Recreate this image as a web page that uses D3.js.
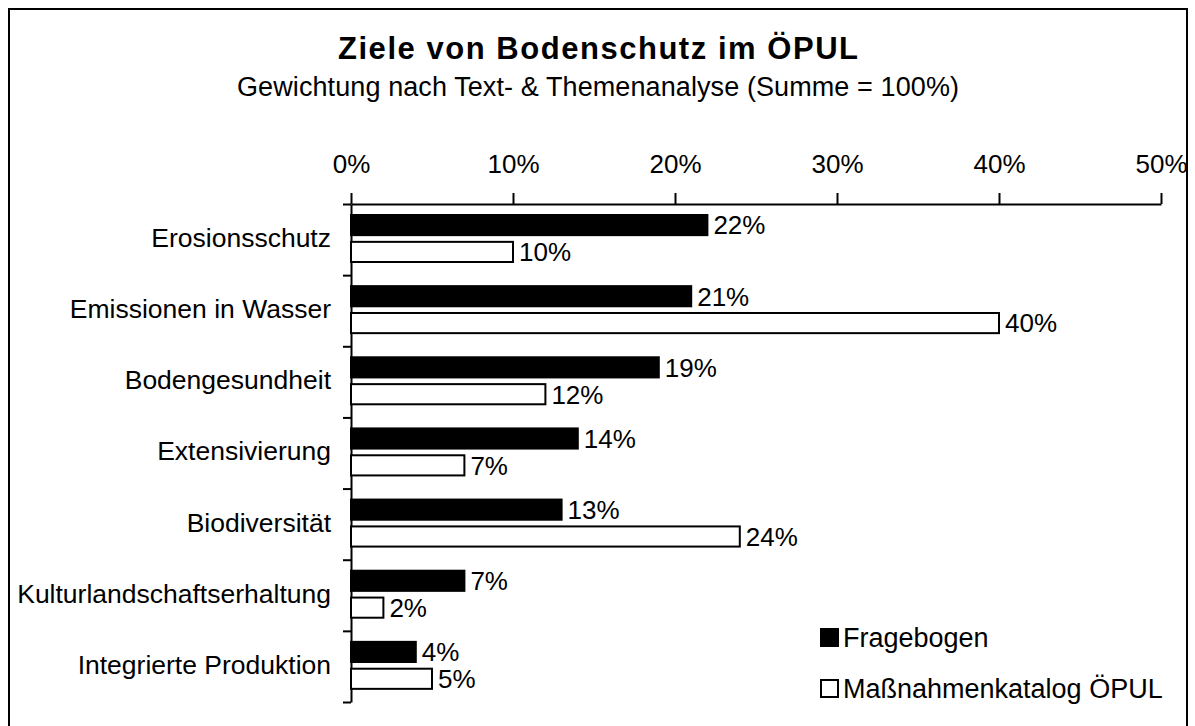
<!DOCTYPE html>
<html>
<head>
<meta charset="utf-8">
<script src="https://cdn.jsdelivr.net/npm/d3@7"></script>
<style>
  body { margin: 0; background: #fff; }
  svg text { font-family: "Liberation Sans", Arial, sans-serif; fill: #000; }
</style>
</head>
<body>
<svg id="chart" width="1195" height="726"></svg>
<script>
// data
var categories = ['Erosionsschutz', 'Emissionen in Wasser', 'Bodengesundheit', 'Extensivierung',
    'Biodiversität', 'Kulturlandschaftserhaltung', 'Integrierte Produktion'];
var fragebogen = [22, 21, 19, 14, 13, 7, 4];
var katalog = [10, 40, 12, 7, 24, 2, 5];
var seriesNames = ['Fragebogen', 'Maßnahmenkatalog ÖPUL'];
var xTicks = [0, 10, 20, 30, 40, 50];

var svg = d3.select('#chart');

// frame
svg.append('rect')
    .attr('x', 9).attr('y', 9)
    .attr('width', 1178).attr('height', 740)
    .attr('fill', 'none').attr('stroke', '#000').attr('stroke-width', 2);

// titles
svg.append('text')
    .attr('x', 598).attr('y', 59)
    .attr('text-anchor', 'middle')
    .style('font-size', '31px').style('font-weight', 'bold')
    .attr('textLength', 520).attr('lengthAdjust', 'spacing')
    .text('Ziele von Bodenschutz im ÖPUL');

svg.append('text')
    .attr('x', 598).attr('y', 96)
    .attr('text-anchor', 'middle')
    .style('font-size', '27px')
    .attr('textLength', 722).attr('lengthAdjust', 'spacing')
    .text('Gewichtung nach Text- & Themenanalyse (Summe = 100%)');

var x = d3.scaleLinear().domain([0, 50]).range([351, 1161]);
var y = d3.scaleBand().domain(categories).range([204, 702]).padding(0);
var ySub = d3.scaleBand().domain(seriesNames).range([11, 58]).paddingInner(0.25);

// top axis
var xAxis = d3.axisTop(x)
    .tickValues(xTicks)
    .tickFormat(function (d) { return d + '%'; })
    .tickSize(11).tickSizeOuter(0).tickPadding(20);

var gx = svg.append('g').attr('transform', 'translate(0,204)').call(xAxis);
gx.selectAll('path, line').attr('stroke', '#000').attr('stroke-width', 2);
gx.selectAll('text').style('font-size', '26px').attr('font-family', null).attr('fill', '#000');

// left axis with ticks at category boundaries
var yIdx = d3.scaleLinear().domain([0, categories.length]).range([204, 702]);
var yAxis = d3.axisLeft(yIdx)
    .tickValues(d3.range(categories.length + 1))
    .tickFormat('')
    .tickSize(8).tickSizeOuter(0);
var gy = svg.append('g').attr('transform', 'translate(351,0)').call(yAxis);
gy.selectAll('path, line').attr('stroke', '#000').attr('stroke-width', 2);

// category labels
svg.append('g').selectAll('text')
    .data(categories)
    .enter().append('text')
    .attr('x', 331)
    .attr('y', function (d) { return y(d) + y.bandwidth() / 2; })
    .attr('dy', '0.28em')
    .attr('text-anchor', 'end')
    .style('font-size', '26.5px')
    .text(function (d) { return d; });

// bars
var rows = categories.map(function (c, i) {
    return [
        { cat: c, key: seriesNames[0], value: fragebogen[i], fill: '#000' },
        { cat: c, key: seriesNames[1], value: katalog[i], fill: '#fff' }
    ];
});

var groups = svg.append('g').selectAll('g')
    .data(rows)
    .enter().append('g')
    .attr('transform', function (d) { return 'translate(0,' + y(d[0].cat) + ')'; });

groups.selectAll('rect')
    .data(function (d) { return d; })
    .enter().append('rect')
    .attr('x', x(0))
    .attr('y', function (d) { return ySub(d.key); })
    .attr('width', function (d) { return x(d.value) - x(0); })
    .attr('height', ySub.bandwidth())
    .attr('fill', function (d) { return d.fill; })
    .attr('stroke', '#000').attr('stroke-width', 2);

groups.selectAll('text')
    .data(function (d) { return d; })
    .enter().append('text')
    .attr('x', function (d) { return x(d.value) + 6; })
    .attr('y', function (d) { return ySub(d.key) + ySub.bandwidth() / 2; })
    .attr('dy', '0.36em')
    .style('font-size', '26px')
    .text(function (d) { return d.value + '%'; });

// legend
var legend = svg.append('g').selectAll('g')
    .data(seriesNames)
    .enter().append('g')
    .attr('transform', function (d, i) { return 'translate(821,' + (629 + i * 51) + ')'; });

legend.append('rect')
    .attr('width', 17).attr('height', 17)
    .attr('fill', function (d, i) { return i === 0 ? '#000' : '#fff'; })
    .attr('stroke', '#000').attr('stroke-width', 2);

legend.append('text')
    .attr('x', 22).attr('y', 18)
    .style('font-size', '27px')
    .text(function (d) { return d; });
</script>
</body>
</html>
